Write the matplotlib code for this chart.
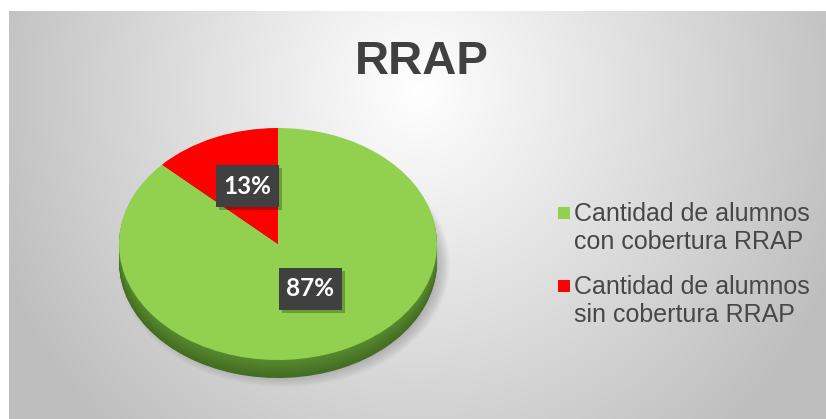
import numpy as np
import matplotlib
matplotlib.use("Agg")
import matplotlib.pyplot as plt
from matplotlib.patches import Rectangle, Ellipse
from matplotlib.transforms import Affine2D

# chart data
title = "RRAP"
labels = ["Cantidad de alumnos\ncon cobertura RRAP",
          "Cantidad de alumnos\nsin cobertura RRAP"]
values = [87, 13]
pct_text = ["87%", "13%"]
colors = ["#92d050", "#ff0000"]
side_colors = ["#578a2d", "#a00000"]

W, H = 826, 419
fig = plt.figure(figsize=(W / 100, H / 100), dpi=100, facecolor="white")
ax = fig.add_axes([0, 0, 1, 1])

def iy(y):
    # image row -> data y (data y grows upward)
    return H - y

# background gradient (chart area starts below a thin white strip)
gx = np.linspace(9, W, 400)
gy = np.linspace(12, H, 200)
XX, YY = np.meshgrid(gx, gy)
u = (XX - 418) / 410.0
v = (YY - 90) / 330.0
g = 1 - 0.23 * np.clip(np.sqrt(u ** 2 + 0.6 * v ** 2), 0, 1.1)
ax.imshow(np.dstack([g, g, g]), extent=(9, W, iy(H), iy(12)),
          origin="upper", aspect="auto", zorder=0)

# pie geometry (pixels)
cx, cy = 278, iy(244)
rx, ry = 159, 116
depth = 18

# soft shadow under the pie
for k in range(10):
    ax.add_patch(Ellipse((cx + 6, cy - depth - 2), 2 * rx + 14 - k * 2.5,
                         2 * ry + 14 - k * 2.5, color="black", alpha=0.018,
                         lw=0, zorder=1))

def draw_pie(cols, dy, z):
    wedges, _ = ax.pie(values, colors=cols, startangle=90, counterclock=False,
                       radius=1, center=(0, 0),
                       wedgeprops=dict(linewidth=0, antialiased=True))
    tr = Affine2D().scale(rx, ry).translate(cx, cy - dy) + ax.transData
    for w in wedges:
        w.set_transform(tr)
        w.set_zorder(z)
    return wedges

# side of the pie, stacked layers getting darker toward the bottom
for k in range(depth, 0, -1):
    f = 0.78 + 0.22 * (1 - k / depth)
    cols = []
    for c in side_colors:
        rgb = np.array(matplotlib.colors.to_rgb(c)) * f
        cols.append(tuple(rgb))
    draw_pie(cols, k, 2)

draw_pie(colors, 0, 3)

# percentage labels
lab_pos = [(310, 289), (247, 186)]
for (px, py), t in zip(lab_pos, pct_text):
    bw, bh = 63, 42
    ax.add_patch(Rectangle((px - bw / 2 + 3, iy(py) - bh / 2 - 3), bw, bh,
                           color="black", alpha=0.25, lw=0, zorder=4))
    ax.add_patch(Rectangle((px - bw / 2, iy(py) - bh / 2), bw, bh,
                           color="#404040", lw=0, zorder=5))
    ax.text(px, iy(py), t, color="white", fontsize=17.5, fontweight="bold",
            family="Lato", ha="center", va="center", zorder=6)

# title
ax.text(422, iy(62), title, fontsize=34, fontweight="bold",
        family="Liberation Sans", color="#404040", ha="center", va="center",
        zorder=6)

# legend
leg_y = [228, 301]
for ly, lab, c in zip(leg_y, labels, colors):
    ax.add_patch(Rectangle((558, iy(ly - 21) - 12), 12, 12, color=c, lw=0,
                           zorder=6))
    ax.text(574, iy(ly), lab, fontsize=18, family="Liberation Sans",
            color="#474747", ha="left", va="center", linespacing=1.22,
            zorder=6)

ax.set_aspect("auto")
ax.set_xlim(0, W)
ax.set_ylim(0, H)
ax.axis("off")

fig.savefig("out.png", dpi=100, facecolor="white")
